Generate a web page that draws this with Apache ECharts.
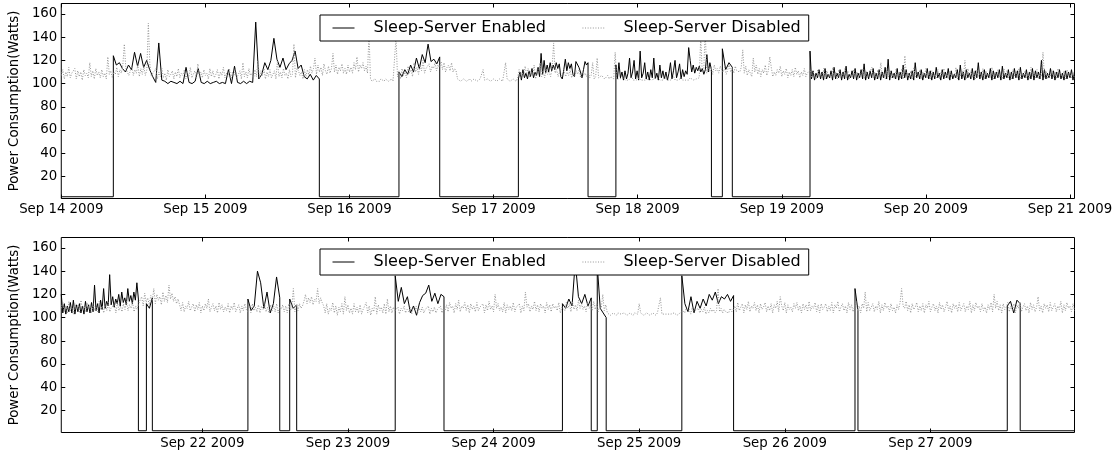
<!DOCTYPE html>
<html><head><meta charset="utf-8">
<script src="https://cdn.jsdelivr.net/npm/echarts@6/dist/echarts.min.js"></script>
<style>html,body{margin:0;padding:0;background:#fff}#c{width:1116px;height:455px}</style>
</head><body><div id="c"></div>
<script>
// ---------- data ----------
const seriesNames = ['Sleep-Server Enabled', 'Sleep-Server Disabled'];
const yTickValues = [20, 40, 60, 80, 100, 120, 140, 160];
const sleepLevel = 2.5;

// top panel: Sep 14 00:00 -> Sep 21 00:45 (UTC)
const topStart = '2009-09-14T00:00';
const topSpanHours = 168.75;
const topTickDays = ['2009-09-14', '2009-09-15', '2009-09-16', '2009-09-17', '2009-09-18', '2009-09-19', '2009-09-20', '2009-09-21'];
const topOnStartHours = [8.67, 56.24, 76.13, 92.37, 110.1, 124.7];
const topOnEndHours = [42.98, 63.03, 87.73, 108.28, 111.76, 168.75];
const topOnValues = [
  [124,116,118,113,110,116,112,127,115,126,114,120,112,106,101,135,
   103,102,100,102,101,100,102,100,114,101,100,102,113,101,100,102,100,101,102,100,101,100,112,100,115,101,100,102,100,102,101,
   153,104,108,118,112,120,139,121,114,122,112,117,120,128,113,116,106,104,108,103,107,104],
  [110,106,112,108,116,110,122,113,125,118,134,119,121,117,123],
  [104,110,103,112,105,109,104,111,106,113, 105,110,107,114,106,126,108,120,109,116,
   110,118,111,116,112,118,113,117,106,104, 112,121,111,118,113,117,108,106,119,120,
   114,110,105,112,119,116,118],
  [116,104,118,105,110,103,111,104,109,122, 105,110,120,104,111,103,128,105,109,118,
   104,110,103,112,105,122,104,109,103,116, 105,111,104,110,103,109,118,104,111,120,
   105,110,117,104,112,106,111,108,131,120, 110,116,109,114,111,115,110,113,108,112,
   125,110,118,112],
  [130,112,118,114],
  [128,104,111,103,109,105,112,104,110,103, 113,104,108,105,111,103,114,104,109,105,
   112,103,110,104,115,103,108,105,111,104, 113,103,109,105,112,104,117,103,110,104,
   111,105,113,103,109,104,112,103,110,105, 114,104,121,103,111,105,109,104,113,103,
   110,104,116,105,112,103,109,104,111,103, 118,105,110,104,112,103,109,105,113,104,
   111,103,110,104,114,105,109,103,112,104, 110,105,113,103,111,104,108,105,112,103,
   116,104,110,103,112,105,109,104,113,103, 111,105,118,104,110,103,112,104,109,105,
   113,103,111,104,110,105,112,103,115,104, 109,105,112,103,110,104,113,105,111,103,
   114,104,109,105,112,103,110,104,113,103, 111,105,110,104,120,103,112,104,109,105,
   113,104,111,103,110,105,112,104,109,103, 111,104,110,105,112,103,110]
];
const topDisabled = [
  107,112,104,110,106,114,105,109,108,113,104,111,106,110,103,112,107,109,105,118,106,111,104,113,107,110,105,112,106,109,104,123,108,111,105,110,
  108,114,106,112,109,116,134,113,110,107,108,115,107,112,109,116,106,113,108,115,107,112,152,117,106,109,108,113,
  104,110,106,113,105,109,103,112,106,108, 111,104,110,106,113,105,109,107,112,104,
  110,106,114,105,108,111,104,117,106,110, 105,112,107,109,104,113,106,111,105,108,
  112,104,110,107,114,105,109,106,113,104, 110,107,112,105,108,111,104,118,106,110,
  105,113,107,109,104,112,106,120,105,111, 107,113,104,110,106,112,105,108,111,104,
  120,106,110,105,113,107,109,104,112,106, 108,134,105,113,111,107,110,104,112,106,
  112,107,115,109,113,122,108,116,110,114,107,117,111,108,115,109,113,126,110,116,108,114,111,117,109,113,108,116,110,114,
  109,118,112,123,110,116,113,118,111,115,109,143,
  104,102,103,104,102,103,102,104,103,102,104,103,102,103,104,102,103,140,
  106,111,104,113,107,110,105,115,109,112,106,118,110,114,108,116,111,120,109,113,112,117,110,115,113,118,111,116,114,119,
  112,118,110,114,116,111,118,110,113,111,
  104,103,102,103,104,103,102,103,104,102,103,104,103,102,103,104,103,112,103,102,
  104,103,102,103,104,103,102,103,104,103,102,103,118,104,103,102,103,104,103,102,
  105,112,104,110,106,115,108,113,105,111,107,116,104,112,109,118,106,111,105,113,108,110,106,114,135,109,112,106,110,107,
  108,111,106,110,107,112,105,109,106,111,108,112,105,110,107,109,106,111,
  105,107,118,104,106,122,105,104,107,106,104,105,107,104,106,105,104,127,
  104,103,104,103,105,104,103,104,103,104,106,103,104,103,104,105,103,104,103,104,103,105,104,103,104,104,103,105,
  104,103,104,103,105,104,103,104,103,104,106,103,104,103,104,105,103,104,103,104,103,105,104,103,104,104,103,105,
  140,110,112,145,109,113,
  110,114,108,116,111,113,109,115,112,110,114,108,112,116,110,113,109,115,111,112,110,114,
  129,109,115,107,112,111,106,122,110,116,108,113,106,112,109,116,107,111,123,114,106,110,107,112,
  109,115,106,111,108,113,105,110,107,112,106,114,108,111,105,110,107,113,106,109,108,112,105,110,
  110,104,112,106,109,105,113,104,111,107, 108,105,114,106,110,104,112,105,109,106,
  113,105,111,104,108,106,112,105,110,104, 109,106,113,104,111,105,108,107,114,105,
  110,104,112,106,118,105,109,104,113,106, 111,105,108,104,112,106,110,105,113,104,
  124,106,109,105,111,104,114,106,108,105, 112,104,110,106,113,105,109,104,111,106,
  108,105,112,104,110,106,113,105,109,104, 111,106,108,105,114,104,110,106,112,105,
  120,104,113,106,111,105,108,104,112,106, 109,105,113,104,111,106,108,105,114,104,
  110,106,112,105,109,104,113,106,111,105, 108,104,112,106,110,105,113,104,109,106,
  111,105,108,104,114,106,110,105,112,104, 109,106,127,105,111,104,108,106,112,105,
  110,104,113,106,109,105,111,104,112,106, 108,105,110,104
];

// bottom panel: Sep 21 00:45 -> Sep 27 23:45 (UTC)
const bottomStart = '2009-09-21T00:45';
const bottomSpanHours = 167;
const bottomTickDays = ['2009-09-22', '2009-09-23', '2009-09-24', '2009-09-25', '2009-09-26', '2009-09-27'];
const bottomOnStartHours = [0, 14.03, 30.76, 37.65, 55.04, 82.6, 88.34, 102.28, 130.82, 155.92];
const bottomOnEndHours = [12.71, 15.01, 36.01, 38.8, 63.08, 87.35, 89.81, 110.81, 131.31, 158.05];
const bottomOnValues = [
  [120,104,112,103,110,105,113,104,115,103, 111,105,112,104,110,103,114,105,111,104,
   113,105,128,106,112,104,115,107,125,108, 114,110,137,111,118,109,116,112,120,110,
   122,113,117,111,125,114,119,112,122,115, 130,116],
  [112,108,117],
  [116,106,110,140,130,108,122,104,112,135,117],
  [116,108,111],
  [136,114,126,112,118,104,110,102,113,119,121,128,114,121,112,120,118],
  [112,108,116,110,148,118,112,120,110,117],
  [145,108,104,100],
  [136,112,105,118,104,114,108,116,110,120,115,122,112,118,116,120,114,119],
  [125,106],
  [110,114,104,115,112]
];
const bottomDisabled = [
  108,113,105,110,104,114,106,109,103,112,107,111,104,115,106,110,105,113,108,111,104,112,106,109,105,114,
  107,110,104,112,106,113,105,109,108,111,104,113,106,110,105,112,107,114,106,111,108,113,105,110,107,112,
  112,118,110,121,113,117,111,119,114,125,112,120,115,118,111,122,114,119,113,128,116,121,114,118,112,116,
  111,106,113,105,110,108,114,106,109,112,105,111,107,113,104,110,106,112,108,116,105,109,112,
  106,110,104,113,107,111,105,109,106,112,104,110,107,113,105,108,111,104,110,106,112,107,
  105,110,104,112,106,109,105,111,104,110,107,112,105,109,104,111,106,110,105,112,104,109,107,111,105,110,104,112,106,109,125,105,111,106,112,108,110,
  114,120,112,117,113,118,111,116,114,125,112,117,113,
  110,104,112,103,108,106,113,104,110,102,109,105,112,103,118,106,111,104,108,103,112,105,109,104,
  111,103,107,106,113,104,110,102,108,105,118,103,111,106,109,104,112,103,116,105,110,104,109,106,
  105,109,103,108,106,110,104,107,105,109,103,108,106,110,104,108,105,109,104,107,106,110,103,108,105,109,104,107,106,110,104,108,
  106,111,105,113,108,110,104,112,107,115, 105,110,108,113,106,111,104,112,107,110,
  105,113,106,109,108,112,104,111,106,114, 107,110,105,120,108,112,106,109,105,113,
  104,111,107,110,106,113,105,109,108,112, 104,110,106,122,109,112,105,110,107,114,
  106,111,105,112,108,110,104,113,107,111, 105,112,108,110,106,113,104,109,
  110,106,113,108,112,105,114,107,111,106,115,108,112,107,110,105,113,108,111,106,114,107,112,105,110,108,120,106,111,
  104,103,102,103,104,103,102,104,103,103,102,104,103,102,103,104,103,102,104,103,103,112,104,103,102,
  103,104,103,102,103,104,103,102,104,103,117,103,104,103,102,103,104,103,102,104,103,102,103,104,103,
  106,104,108,105,107,103,109,104,106,105,108,104,107,105,109,103,106,104,108,105,107,104,106,125,105,108,104,107,105,106,104,108,105,107,
  110,105,113,106,109,112,104,111,107,114, 105,110,108,113,106,111,104,112,107,109,
  113,105,110,106,112,104,111,108,114,105, 118,110,106,113,104,111,107,109,105,112,
  108,113,106,110,104,112,107,111,105,114, 106,110,108,113,105,111,104,112,107,109,
  112,105,110,106,113,104,111,108,114,105, 109,112,106,110,104,113,107,111,105,109,
  114,106,110,104,112,108,122,105,113,106, 109,112,105,110,107,114,104,111,106,113,
  108,110,105,112,106,109,104,111,107,113, 125,110,108,114,106,111,104,112,107,109,
  113,105,110,106,112,104,111,108,114,105, 109,112,106,110,104,113,107,111,105,109,
  114,106,110,104,112,108,111,105,113,106, 109,112,105,110,107,114,104,111,106,113,
  108,110,105,112,106,109,104,111,107,113, 105,120,108,114,106,111,104,112,107,109,
  113,105,110,106,112,104,111,108,114,105, 109,112,106,110,104,113,107,111,105,109,
  118,106,110,104,112,108,111,105,113,106, 109,112,105,110,107,114,104,111,106,113,
  108,110,105,112,106
];

// ---------- helpers ----------
const HOUR = 3600000;
const MONTHS = ['Jan','Feb','Mar','Apr','May','Jun','Jul','Aug','Sep','Oct','Nov','Dec'];
function utc(s) { return new Date(s + (s.length <= 10 ? 'T00:00Z' : 'Z')).getTime(); }
function fmtDay(v) {
  const d = new Date(v);
  return MONTHS[d.getUTCMonth()] + ' ' + d.getUTCDate() + ' ' + d.getUTCFullYear();
}
function buildEnabled(start, span, starts, ends, vals) {
  const t0 = utc(start), pts = [];
  if (starts[0] > 0) pts.push([t0, sleepLevel]);
  for (let k = 0; k < starts.length; k++) {
    const s = starts[k], e = ends[k], v = vals[k], n = v.length;
    if (s > 0) pts.push([t0 + s * HOUR, sleepLevel]);
    for (let i = 0; i < n; i++) pts.push([t0 + (s + (e - s) * i / (n - 1)) * HOUR, v[i]]);
    if (e < span) pts.push([t0 + e * HOUR, sleepLevel]);
  }
  if (ends[ends.length - 1] < span) pts.push([t0 + span * HOUR, sleepLevel]);
  return pts;
}
function buildDisabled(start, span, vals) {
  const t0 = utc(start), n = vals.length;
  return vals.map((v, i) => [t0 + span * HOUR * i / (n - 1), v]);
}

// ---------- chart ----------
const FONT = 'DejaVu Sans';
const GRAY = '#959595';
const tick = { show: true, inside: true, length: 4, lineStyle: { color: '#000', width: 1 } };
const grids = [
  { left: 56.5, top: 3.5, width: 1018, height: 195, show: true, borderColor: '#000', borderWidth: 1, backgroundColor: 'transparent' },
  { left: 56.5, top: 237.5, width: 1018, height: 195, show: true, borderColor: '#000', borderWidth: 1, backgroundColor: 'transparent' }
];
function xAxes(g, start, span, days) {
  const ticks = days.map(utc);
  const base = {
    type: 'value', gridIndex: g, min: utc(start), max: utc(start) + span * HOUR,
    axisLine: { show: false }, splitLine: { show: false },
    axisTick: Object.assign({ customValues: ticks }, tick)
  };
  return [
    Object.assign({}, base, { position: 'bottom',
      axisLabel: { customValues: ticks, formatter: fmtDay, margin: 5, color: '#000', fontSize: 13.3, fontFamily: FONT } }),
    Object.assign({}, base, { position: 'top', axisLabel: { show: false } })
  ];
}
function yAxes(g) {
  const base = {
    type: 'value', gridIndex: g, min: 1, max: 169,
    axisLine: { show: false }, splitLine: { show: false },
    axisTick: Object.assign({ customValues: yTickValues }, tick)
  };
  return [
    Object.assign({}, base, { position: 'left',
      name: 'Power Consumption(Watts)', nameLocation: 'middle', nameGap: 36,
      nameTextStyle: { color: '#000', fontSize: 13.3, fontFamily: FONT },
      axisLabel: { customValues: yTickValues, margin: 4, color: '#000', fontSize: 13.3, fontFamily: FONT } }),
    Object.assign({}, base, { position: 'right', axisLabel: { show: false } })
  ];
}
function legend(top) {
  return {
    data: seriesNames, left: 320, top: top, orient: 'horizontal',
    backgroundColor: '#fff', borderColor: '#000', borderWidth: 1, borderRadius: 0,
    padding: [3, 8, 3, 12], itemGap: 36, itemWidth: 22, itemHeight: 14,
    selectedMode: false,
    itemStyle: { color: 'rgba(0,0,0,0)', borderColor: 'rgba(0,0,0,0)', borderWidth: 0, opacity: 0 },
    lineStyle: { width: 1 },
    textStyle: { color: '#000', fontSize: 16, fontFamily: FONT, lineHeight: 20, padding: [0, 0, 0, 14] }
  };
}
function lineSeries(name, xi, yi, data) {
  const enabled = name === seriesNames[0];
  return {
    type: 'line', name: name, xAxisIndex: xi, yAxisIndex: yi, data: data,
    symbol: 'none', showSymbol: false, silent: true, animation: false,
    emphasis: { disabled: true },
    lineStyle: enabled ? { color: '#000', width: 1 } : { color: GRAY, width: 1, type: [1, 1.6] },
    itemStyle: { color: enabled ? '#000' : GRAY },
    z: enabled ? 2 : 3
  };
}

const chart = echarts.init(document.getElementById('c'), null, { renderer: 'canvas' });
chart.setOption({
  animation: false,
  backgroundColor: '#fff',
  grid: grids,
  xAxis: xAxes(0, topStart, topSpanHours, topTickDays).concat(xAxes(1, bottomStart, bottomSpanHours, bottomTickDays)),
  yAxis: yAxes(0).concat(yAxes(1)),
  legend: [legend(15), legend(249)],
  series: [
    lineSeries(seriesNames[0], 0, 0, buildEnabled(topStart, topSpanHours, topOnStartHours, topOnEndHours, topOnValues)),
    lineSeries(seriesNames[1], 0, 0, buildDisabled(topStart, topSpanHours, topDisabled)),
    lineSeries(seriesNames[0], 2, 2, buildEnabled(bottomStart, bottomSpanHours, bottomOnStartHours, bottomOnEndHours, bottomOnValues)),
    lineSeries(seriesNames[1], 2, 2, buildDisabled(bottomStart, bottomSpanHours, bottomDisabled))
  ]
});
</script>
</body></html>
